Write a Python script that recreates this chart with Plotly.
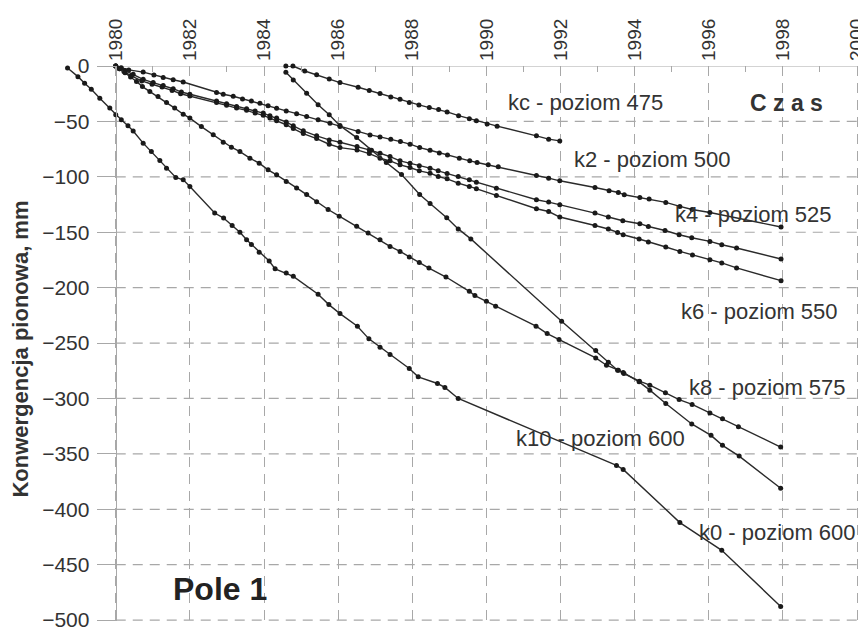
import plotly.graph_objects as go

# data: year (decimal) vs vertical convergence [mm]
kc_x = [1984.59, 1984.78, 1985.1, 1985.42, 1985.76, 1986.05, 1986.54, 1986.84, 1987.13, 1987.42,
        1987.67, 1987.92, 1988.18, 1988.46, 1988.71, 1988.94, 1989.25, 1989.54, 1989.73, 1990.02,
        1990.29, 1991.35, 1991.68, 1991.98]
kc_y = [0, 0, -4.5, -8, -11.7, -15, -19.2, -22.2, -24.9, -27.9,
        -30, -33, -35.1, -37.5, -39.3, -41.4, -44.8, -47.5, -49.5, -52.3,
        -54.3, -63, -66, -67.6]

k2_x = [1980.0, 1980.15, 1980.35, 1980.74, 1981.03, 1981.28, 1981.55, 1981.82, 1982.72, 1982.9,
        1983.17, 1983.42, 1983.66, 1983.89, 1984.11, 1984.34, 1984.6, 1984.88, 1985.15, 1985.46,
        1985.78, 1986.05, 1986.54, 1986.86, 1987.13, 1987.42, 1987.68, 1987.94, 1988.2, 1988.48,
        1988.73, 1988.95, 1989.27, 1989.55, 1989.75, 1990.05, 1990.32, 1991.35, 1991.68, 1991.98,
        1992.93, 1993.31, 1993.56, 1993.72, 1994.14, 1994.39, 1994.84, 1995.22, 1995.55, 1996.03,
        1997.95]
k2_y = [0, -1.5, -3.5, -5.5, -8.1, -10.3, -12.4, -14.4, -23.8, -25.5,
        -27.3, -29.7, -31.5, -33.6, -35.8, -38.1, -40.5, -43, -45.6, -48.6,
        -51.6, -54.5, -59.2, -62.2, -64, -66, -68.2, -70.5, -73.6, -76,
        -78.4, -80.2, -83.2, -85.6, -87.1, -89.2, -91, -98.8, -101.2, -103.6,
        -109.6, -112.6, -114.1, -116.2, -118.6, -120.1, -123.1, -126.7, -129.5, -132.2,
        -145.3]

k4_x = [1980.0, 1980.12, 1980.25, 1980.47, 1980.74, 1981.01, 1981.28, 1981.55, 1981.77, 1982.0,
        1982.72, 1982.99, 1983.26, 1983.53, 1983.76, 1983.98, 1984.16, 1984.34, 1984.6, 1984.79,
        1985.06, 1985.42, 1985.76, 1986.05, 1986.51, 1986.84, 1987.13, 1987.4, 1987.67, 1987.94,
        1988.19, 1988.48, 1988.7, 1988.94, 1989.24, 1989.54, 1989.73, 1990.27, 1991.35, 1991.68,
        1991.98, 1992.93, 1993.29, 1993.68, 1994.14, 1994.37, 1994.82, 1995.2, 1995.54, 1996.03,
        1996.35, 1996.75, 1997.95]
k4_y = [0, -2, -4, -7.5, -12, -15, -17.5, -20.5, -23.5, -25.5,
        -31.5, -34, -36.5, -38.5, -40.5, -42.5, -45, -47, -50.5, -54,
        -58.5, -63, -66.7, -68.8, -72.7, -75.7, -78.7, -81.7, -85.6, -87.7,
        -90.1, -92.2, -94.6, -97, -99.7, -102.7, -104.8, -110.2, -120.7, -122.8,
        -125.2, -132.7, -136.3, -139.6, -142.3, -144.8, -148.4, -152.3, -155, -158.3,
        -161.3, -164.2, -174.2]

k6_x = [1980.0, 1980.1, 1980.22, 1980.42, 1980.7, 1980.98, 1981.25, 1981.52, 1981.75, 1982.0,
        1982.72, 1982.99, 1983.26, 1983.53, 1983.76, 1983.98, 1984.16, 1984.34, 1984.6, 1984.79,
        1985.06, 1985.42, 1985.76, 1986.05, 1986.51, 1986.84, 1987.13, 1987.4, 1987.67, 1987.94,
        1988.19, 1988.48, 1988.7, 1988.94, 1989.24, 1989.54, 1989.73, 1990.27, 1991.35, 1991.68,
        1991.98, 1992.93, 1993.29, 1993.54, 1993.69, 1994.12, 1994.37, 1994.84, 1995.22, 1995.56,
        1996.03, 1996.35, 1996.75, 1997.95]
k6_y = [0, -2.5, -5, -9, -13.5, -16.5, -19, -22, -25, -27,
        -33, -35.5, -38, -40, -42.5, -44.5, -47, -49.5, -53, -56.5,
        -61, -65.5, -70.6, -73.6, -75.7, -79, -83.2, -85.6, -89.2, -91.6,
        -94.6, -96.7, -99.7, -101.8, -105.7, -108.7, -110.8, -116.8, -128.8, -131.3,
        -136.3, -143.9, -147.1, -150.2, -152.3, -156.1, -158.8, -163.3, -167.3, -170.5,
        -174.8, -177.7, -182.2, -193.7]

k8_x = [1980.0, 1980.1, 1980.25, 1980.4, 1980.56, 1980.72, 1980.92, 1981.14, 1981.37, 1981.59,
        1981.82, 1982.0, 1982.31, 1982.63, 1982.9, 1983.12, 1983.35, 1983.62, 1983.87, 1984.11,
        1984.34, 1984.6, 1984.88, 1985.15, 1985.42, 1985.73, 1986.03, 1986.5, 1986.81, 1987.13,
        1987.4, 1987.67, 1987.92, 1988.19, 1988.45, 1988.91, 1989.54, 1989.69, 1990.0, 1990.25,
        1991.34, 1991.64, 1991.96, 1992.95, 1993.24, 1993.56, 1993.71, 1994.13, 1994.41, 1994.83,
        1995.2, 1995.55, 1996.03, 1996.37, 1996.8, 1997.94]
k8_y = [0, -2.5, -6, -10, -14, -18.6, -23, -27.6, -33, -38,
        -43.5, -47, -54.7, -62, -68.8, -73.3, -77.2, -83.2, -87.7, -93.7,
        -98.2, -104.2, -110, -116, -122.5, -129.5, -135.5, -144.7, -150.7, -156.8,
        -162.8, -167.3, -172.3, -177.2, -182.3, -190.4, -203.3, -207.2, -212.3, -216.8,
        -234.8, -241.4, -246.8, -263.4, -270, -274.5, -277.5, -284.4, -288, -294.9,
        -301, -305.4, -313, -318.3, -325.5, -343.8]

k0_x = [1984.59, 1984.79, 1985.15, 1985.46, 1985.76, 1986.05, 1986.5, 1986.9, 1987.3, 1987.71,
        1988.2, 1988.48, 1988.93, 1989.24, 1989.58, 1992.03, 1992.95, 1993.29, 1993.54, 1993.69,
        1994.12, 1994.41, 1994.84, 1995.54, 1996.06, 1996.37, 1996.82, 1997.94]
k0_y = [-5.7, -12.6, -24.6, -35, -44, -53.8, -64.6, -76, -87, -98,
        -116, -124, -137, -147, -156, -230.4, -256.8, -267.3, -274.5, -276.5,
        -285, -292.5, -304.5, -323, -333.3, -342.3, -352, -381]

k10_x = [1978.7, 1978.98, 1979.16, 1979.34, 1979.57, 1979.84, 1980.0, 1980.15, 1980.33, 1980.47,
         1980.74, 1980.96, 1981.19, 1981.37, 1981.62, 1981.82, 1982.0, 1982.67, 1982.91, 1983.14,
         1983.35, 1983.53, 1983.66, 1983.87, 1984.14, 1984.3, 1984.6, 1984.79, 1985.46, 1985.75,
         1986.05, 1986.52, 1986.83, 1987.13, 1987.4, 1987.92, 1988.16, 1988.68, 1988.88, 1989.24,
         1993.51, 1993.69, 1995.22, 1996.35, 1997.94]
k10_y = [-1.8, -9.6, -15.6, -21, -29, -38, -44, -48.6, -54, -58.6,
         -69.6, -77.2, -85.3, -92.2, -100.6, -102.7, -108.7, -132.7, -137.2, -144,
         -150, -156.8, -161, -168, -176, -183, -186.8, -189.8, -206, -215.3,
         -223.4, -234.8, -246.2, -253.8, -260.4, -273, -280.5, -286.5, -290, -300,
         -360.4, -364, -412, -437, -487.7]

series = [
    ('kc', kc_x, kc_y), ('k2', k2_x, k2_y), ('k4', k4_x, k4_y), ('k6', k6_x, k6_y),
    ('k8', k8_x, k8_y), ('k0', k0_x, k0_y), ('k10', k10_x, k10_y),
]

year_ticks = list(range(1980, 2001, 2))
odd_years = list(range(1981, 2000, 2))
conv_ticks = list(range(-500, 1, 50))

# labels: (text, x, y, anchor)
labels = [
    ('kc - poziom 475', 1992.67, -33.3, 'center'),
    ('k2 - poziom 500', 1994.47, -84.7, 'center'),
    ('k4 - poziom 525', 1997.2, -134.2, 'center'),
    ('k6 - poziom 550', 1997.38, -221.6, 'center'),
    ('k8 - poziom 575', 1995.41, -290.0, 'left'),
    ('k10 - poziom 600', 1993.08, -336.0, 'center'),
    ('k0 - poziom 600', 1997.85, -420.7, 'center'),
]

X0, X1 = 1978.55, 2000.08
FONT = 'Liberation Sans, Arial, sans-serif'
GRID = '#a8a8a8'

fig = go.Figure()
for name, xs, ys in series:
    fig.add_trace(go.Scatter(
        x=xs, y=ys, name=name, mode='lines+markers',
        line=dict(color='#2a2a2a', width=1.4),
        marker=dict(color='#1a1a1a', size=5),
        cliponaxis=False, showlegend=False,
    ))

# dashed horizontal grid only between 1980 and 2000
for v in conv_ticks:
    fig.add_shape(type='line', xref='x', yref='y', x0=1980, x1=2000, y0=v, y1=v,
                  line=dict(color=GRID, width=1.2, dash='solid' if v == 0 else '10px,7px'),
                  layer='below')

for text, x, y, anchor in labels:
    fig.add_annotation(x=x, y=y, text=text, showarrow=False, xanchor=anchor,
                       font=dict(size=22, color='#333333', family=FONT))

fig.add_annotation(x=1998.1, y=-33.3, text='<b>C z a s</b>', showarrow=False,
                   font=dict(size=23, color='#333333', family=FONT))
fig.add_annotation(x=1982.82, y=-472, text='<b>Pole 1</b>', showarrow=False,
                   font=dict(size=32, color='#222222', family=FONT))
fig.add_annotation(xref='paper', yref='paper', x=-0.052, y=0.49, xanchor='center',
                   yanchor='middle', text='<b>Konwergencja pionowa, mm</b>', textangle=-90,
                   showarrow=False, font=dict(size=22, color='#333333', family=FONT))

# page body adds an 8px offset, so the figure is a bit smaller than the window
fig.update_layout(
    width=858, height=622,
    margin=dict(l=54, r=6, t=58, b=9),
    plot_bgcolor='white', paper_bgcolor='white',
    font=dict(family=FONT, size=21, color='#333333'),
    xaxis=dict(
        range=[X0, X1], side='top', tickvals=year_ticks, tickangle=-90,
        tickfont=dict(size=19),
        ticks='inside', ticklen=5, tickcolor=GRID,
        minor=dict(tickmode='array', tickvals=odd_years, ticks='inside', ticklen=6, tickcolor=GRID),
        showgrid=True, gridcolor=GRID, gridwidth=1.2, griddash='10px,7px',
        showline=False, zeroline=False, ticklabelstandoff=4, ticklabeloverflow='allow',
        automargin=False,
    ),
    yaxis=dict(
        range=[-500.8, 0], anchor='free', position=(1980 - X0) / (X1 - X0),
        tickvals=conv_ticks, ticks='outside', ticklen=19, tickcolor=GRID, tickwidth=1.2,
        showline=True, linecolor=GRID, linewidth=1.2,
        showgrid=False, zeroline=False, ticklabelstandoff=3, ticklabeloverflow='allow',
        automargin=False,
    ),
)

fig.write_html("out.html")
